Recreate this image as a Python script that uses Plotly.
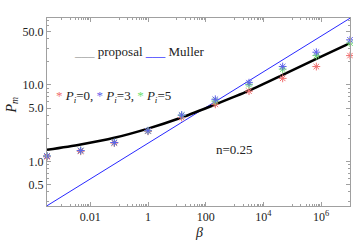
import plotly.graph_objects as go
import numpy as np

# data
log_beta = [-3.5, -2.333, -1.167, 0.0, 1.167, 2.333, 3.5, 4.667, 5.833, 7.0]
beta = [10 ** v for v in log_beta]
p_proposal = [1.42, 1.67, 2.04, 2.69, 3.76, 5.56, 8.41, 13.5, 21.9, 35.2]
p_pi0 = [1.15, 1.36, 1.74, 2.48, 3.75, 5.58, 8.3, 12.2, 17.4, 24.2]
p_pi3 = [1.18, 1.39, 1.77, 2.52, 4.05, 6.5, 10.7, 17.4, 26.8, 38.9]
p_pi5 = [1.18, 1.39, 1.77, 2.52, 4.0, 6.17, 10.1, 16.1, 24.2, 35.2]
muller_beta = [10 ** -3.5, 10 ** 7.0]
muller_p = [0.264, 74.5]

x_tickvals = [0.01, 1, 100, 1e4, 1e6]
x_ticktext = ["0.01", "1", "100", "10<sup>4</sup>", "10<sup>6</sup>"]
y_tickvals = [0.5, 1, 5, 10, 50]
y_ticktext = ["0.5", "1.0", "5.0", "10.0", "50.0"]

RED = "rgb(240,110,110)"
BLUE = "rgb(95,95,235)"
GREEN = "rgb(110,225,110)"
AXC = "#a0a0a0"
FONT = "Liberation Serif"

fig = go.Figure()
fig.add_trace(go.Scatter(x=muller_beta, y=muller_p, mode="lines",
                         line=dict(color="rgb(40,40,255)", width=1)))
fig.add_trace(go.Scatter(x=beta, y=p_proposal, mode="lines",
                         line=dict(color="black", width=2.5, shape="spline", smoothing=0.8)))
for ys, c in [(p_pi0, RED), (p_pi5, GREEN), (p_pi3, BLUE)]:
    fig.add_trace(go.Scatter(x=beta, y=ys, mode="markers", cliponaxis=False,
                             marker=dict(symbol="asterisk-open", size=6.5, color=c,
                                         line=dict(color=c, width=1))))

x_minor = [m * 10.0 ** k for k in (-5, -3, -1, 1, 3, 5) for m in range(1, 10)]
x_minor += [10.0 ** 7]
y_minor = [m * 10.0 ** k for k in (-1, 0, 1) for m in range(2, 10)]
y_minor = [v for v in y_minor if v not in (0.5, 5, 50)]

fig.update_xaxes(type="log", range=[-3.5, 7.0], tickvals=x_tickvals, ticktext=x_ticktext,
                 showgrid=False, zeroline=False, showline=True, linecolor=AXC, linewidth=1,
                 mirror="allticks", ticks="inside", ticklen=4, tickcolor=AXC,
                 tickfont=dict(family=FONT, size=12, color="#222"),
                 minor=dict(tickvals=x_minor, ticks="inside", ticklen=2, tickcolor=AXC, showgrid=False))
fig.update_yaxes(type="log", range=[np.log10(0.262), np.log10(75)], tickvals=y_tickvals,
                 ticktext=y_ticktext, showgrid=False, zeroline=False, showline=True,
                 linecolor=AXC, linewidth=1, mirror="allticks", ticks="inside", ticklen=4,
                 tickcolor=AXC, tickfont=dict(family=FONT, size=12, color="#222"),
                 minor=dict(tickvals=y_minor, ticks="inside", ticklen=2, tickcolor=AXC, showgrid=False))

ann_font = dict(family=FONT, size=13, color="#222")
fig.add_annotation(xref="paper", yref="paper", x=0.082, y=0.82, xanchor="left", yanchor="middle",
                   showarrow=False, font=ann_font,
                   text="<span style='color:#999'>___</span> proposal "
                        "<span style='color:#2020ff'>___</span> Muller")
fig.add_annotation(xref="paper", yref="paper", x=0.022, y=0.58, xanchor="left", yanchor="middle",
                   showarrow=False, font=ann_font,
                   text=f"<span style='color:{RED}'>*</span> <i>P<sub>i</sub></i>=0, "
                        f"<span style='color:{BLUE}'>*</span> <i>P<sub>i</sub></i>=3, "
                        f"<span style='color:{GREEN}'>*</span> <i>P<sub>i</sub></i>=5")
fig.add_annotation(xref="paper", yref="paper", x=0.62, y=0.30, xanchor="center", yanchor="middle",
                   showarrow=False, font=ann_font, text="n=0.25")
fig.add_annotation(xref="paper", yref="paper", x=-0.117, y=0.537, xanchor="center", yanchor="middle",
                   showarrow=False, textangle=-90, font=dict(family=FONT, size=14, color="#222"),
                   text="<i>P<sub>m</sub></i>")
fig.add_annotation(xref="paper", yref="paper", x=0.502, y=-0.14, xanchor="center", yanchor="middle",
                   showarrow=False, font=dict(family=FONT, size=14, color="#222"),
                   text="<i>β</i>")

fig.update_layout(width=353, height=245, margin=dict(l=47, r=3, t=18, b=39),
                  plot_bgcolor="white", paper_bgcolor="white", showlegend=False)
fig.write_html("out.html", config={"displayModeBar": False},
               post_script="document.body.style.margin='0';")
